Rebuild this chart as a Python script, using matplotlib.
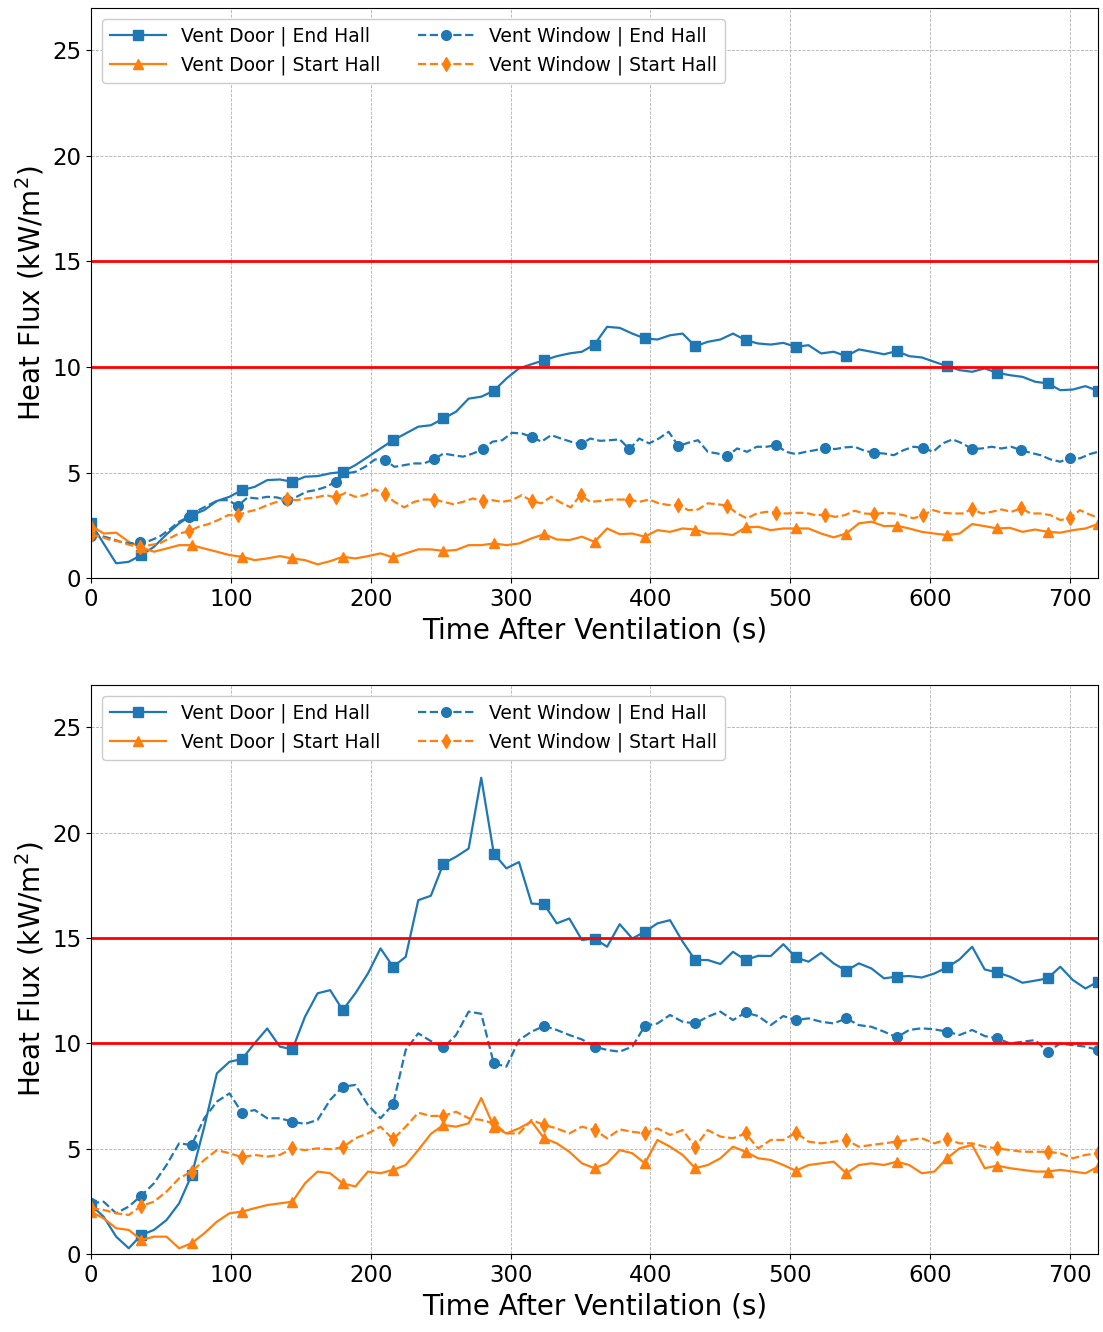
import numpy as np
import matplotlib
matplotlib.use("Agg")
import matplotlib.pyplot as plt

# Time bases (s). Door runs sampled every 9 s, top window runs every 7 s
t_door = np.arange(0, 721, 9)
t_win_top = np.append(np.arange(0, 720, 7), 720)
t_bot = np.arange(0, 721, 9)

# ---- Top panel ----
top_door_end = [
    2.6, 1.64, 0.7, 0.77, 1.09, 1.48, 2.07, 2.59, 2.98, 3.22, 3.65, 3.85, 4.17, 4.32, 4.64, 4.67,
    4.56, 4.8, 4.83, 4.96, 5.03, 5.35, 5.74, 6.14, 6.53, 6.85, 7.17, 7.24, 7.56, 7.88, 8.5, 8.59,
    8.87, 9.45, 9.93, 10.13, 10.32, 10.51, 10.64, 10.72, 11.06, 11.9, 11.85, 11.58, 11.35, 11.3,
    11.5, 11.58, 10.98, 11.19, 11.3, 11.58, 11.27, 11.11, 11.06, 11.14, 10.95, 11.03, 10.64, 10.72,
    10.51, 10.83, 10.72, 10.6, 10.75, 10.51, 10.45, 10.24, 10.04, 9.85, 9.77, 9.93, 9.72, 9.61,
    9.53, 9.3, 9.22, 8.9, 8.93, 9.09, 8.87]
top_door_start = [
    2.5, 2.11, 2.15, 1.72, 1.45, 1.25, 1.4, 1.56, 1.56, 1.4, 1.25, 1.09, 1.01, 0.85, 0.93, 1.04,
    0.93, 0.85, 0.65, 0.8, 1.01, 0.93, 1.04, 1.17, 0.98, 1.17, 1.36, 1.36, 1.29, 1.33, 1.56, 1.56,
    1.64, 1.56, 1.64, 1.88, 2.08, 1.83, 1.8, 1.96, 1.72, 2.35, 2.08, 2.11, 1.96, 2.27, 2.19, 2.35,
    2.3, 2.11, 2.11, 2.04, 2.4, 2.43, 2.27, 2.35, 2.35, 2.35, 2.11, 1.93, 2.11, 2.59, 2.67, 2.46,
    2.48, 2.35, 2.19, 2.11, 2.04, 2.11, 2.56, 2.46, 2.35, 2.38, 2.19, 2.3, 2.19, 2.15, 2.27, 2.35,
    2.56]
top_win_end = [
    2.0, 2.0, 1.88, 1.72, 1.64, 1.69, 1.77, 1.96, 2.3, 2.67, 2.9, 3.22, 3.46, 3.69, 3.69, 3.42,
    3.82, 3.77, 3.85, 3.82, 3.69, 3.85, 4.09, 4.17, 4.32, 4.56, 4.96, 5.03, 5.27, 5.62, 5.59, 5.27,
    5.35, 5.43, 5.43,
    5.62, 5.9, 5.82, 5.75, 5.9, 6.09, 6.46, 6.53, 6.88, 6.85, 6.69, 6.46, 6.77, 6.61, 6.46, 6.33,
    6.61, 6.5, 6.53, 6.57, 6.11, 6.61, 6.38, 6.61, 6.93, 6.25, 6.41, 6.53, 5.98, 5.9, 5.78, 6.14,
    5.98, 6.22,
    6.22, 6.3, 5.98, 5.87, 5.98, 6.06, 6.17, 6.11, 6.19, 6.22, 6.03, 5.93, 5.9, 5.82, 6.06, 6.22,
    6.17, 5.98, 6.38, 6.57, 6.38, 6.11, 6.14, 6.22, 6.14, 6.22, 6.06, 5.93, 5.82, 5.62, 5.51, 5.7,
    5.67, 5.87, 5.98]
top_win_start = [
    2.05, 1.96, 1.8, 1.72, 1.56, 1.48, 1.56, 1.64, 1.88, 2.11, 2.22, 2.43, 2.56, 2.75, 2.98, 2.98,
    3.14, 3.25, 3.46, 3.61, 3.74, 3.69, 3.77, 3.82, 3.93, 3.82, 4.04, 3.85, 3.93, 4.2, 3.98, 3.61,
    3.35, 3.61, 3.72,
    3.72, 3.61, 3.5, 3.61, 3.77, 3.65, 3.69, 3.61, 3.69, 3.93, 3.65, 3.54, 3.85, 3.57, 3.35, 3.93,
    3.61, 3.65, 3.72, 3.72, 3.72, 3.61, 3.72, 3.54, 3.46, 3.46, 3.22, 3.25, 3.54, 3.5, 3.42, 3.06,
    2.83, 3.06,
    3.14, 3.09, 3.06, 3.09, 3.09, 2.98, 3.01, 2.9, 2.98, 3.19, 3.06, 3.03, 3.09, 3.06, 2.98, 2.83,
    2.98, 3.22, 3.09, 3.06, 3.06, 3.27, 3.06, 3.14, 3.25, 3.14, 3.3, 3.06, 3.06, 2.98, 2.75, 2.83,
    3.22, 3.01, 2.86]

# ---- Bottom panel ----
bot_door_end = [
    2.32, 1.77, 0.82, 0.27, 0.9, 1.14, 1.61, 2.4, 3.75, 6.04, 8.57, 9.12, 9.25, 10.0, 10.7, 9.84,
    9.71, 11.26, 12.37, 12.52, 11.57, 12.37, 13.31, 14.5, 13.63, 14.1, 16.79, 17.0, 18.53, 18.85,
    19.24, 22.6, 19.0, 18.3, 18.6, 16.63, 16.59, 15.69, 15.92, 14.9, 14.97, 14.58, 15.65, 14.97,
    15.29, 15.69, 15.84, 14.82, 13.95, 13.95, 13.76, 14.34, 13.95, 14.15, 14.14, 14.7, 14.07,
    13.87, 14.29, 13.79, 13.44, 13.79, 13.55, 13.08, 13.16, 13.19, 13.12, 13.31, 13.6, 13.98,
    14.58, 13.5, 13.36, 13.16, 12.87, 12.97, 13.08, 13.63, 13.0, 12.6, 12.92]
bot_door_start = [
    2.01, 1.69, 1.22, 1.14, 0.66, 0.82, 0.82, 0.27, 0.51, 0.98, 1.53, 1.93, 2.01, 2.17, 2.32, 2.4,
    2.48, 3.35, 3.91, 3.83, 3.35, 3.2, 3.91, 3.83, 3.99, 4.22, 4.93, 5.7, 6.12, 6.04, 6.2, 7.4,
    6.04, 5.72, 5.96, 6.28, 5.49, 5.25, 4.85, 4.3, 4.07, 4.3, 4.93, 4.78, 4.3, 5.41, 5.09, 4.7,
    4.07, 4.22, 4.54, 5.09, 4.85, 4.54, 4.46, 4.22, 3.95, 4.22, 4.3, 4.38, 3.83, 4.22, 4.3, 4.22,
    4.38, 4.22, 3.83, 3.91, 4.54, 5.01, 5.17, 4.07, 4.19, 4.07, 3.99, 3.91, 3.91, 3.99, 3.91, 3.83,
    4.14]
bot_win_end = [
    2.4, 2.48, 1.93, 2.25, 2.77, 3.35, 4.22, 5.25, 5.17, 6.44, 7.23, 7.62, 6.7, 6.83, 6.44, 6.44,
    6.28, 6.17, 6.36, 7.31, 7.94, 8.02, 7.07, 6.44, 7.1, 9.68, 10.47, 10.1, 9.8, 10.39, 11.5, 11.4,
    9.04, 8.89, 10.15, 10.55, 10.82, 10.63, 10.39, 10.18, 9.84, 9.68, 9.6, 9.84, 10.82, 10.94,
    11.34, 11.02, 10.94, 11.26, 11.5, 11.1, 11.46, 11.29, 10.86, 11.29, 11.1, 11.18, 11.02, 10.94,
    11.18, 10.86, 10.78, 10.55, 10.28, 10.63, 10.71, 10.66, 10.55, 10.39, 10.63, 10.34, 10.23,
    9.99, 10.07, 10.15, 9.6, 9.99, 9.91, 9.84, 9.68]
bot_win_start = [
    2.17, 2.09, 1.93, 1.85, 2.28, 2.48, 2.96, 3.59, 3.91, 4.46, 4.93, 4.78, 4.59, 4.7, 4.62, 4.7,
    5.01, 4.93, 5.01, 4.97, 5.06, 5.49, 5.72, 6.04, 5.44, 6.04, 6.7, 6.55, 6.55, 6.75, 6.44, 6.36,
    6.2, 5.72, 5.72, 6.36, 6.12, 5.96, 5.72, 6.04, 5.88, 5.49, 5.91, 5.8, 5.72, 5.96, 5.65, 5.88,
    5.09, 5.88, 5.57, 5.49, 5.72, 5.01, 5.41, 5.41, 5.76, 5.33, 5.25, 5.33, 5.41, 5.09, 5.17, 5.25,
    5.33, 5.41, 5.49, 5.25, 5.44, 5.25, 5.25, 5.09, 5.01, 4.93, 4.85, 4.85, 4.85, 4.78, 4.54, 4.7,
    4.78]

blue = "#1f77b4"
orange = "#ff7f0e"


def draw_panel(ax, t_d, d_end, d_start, t_w, w_end, w_start, mk_d, mk_w):
    ax.plot(t_d, d_end, color=blue, ls="-", lw=1.6, marker="s", ms=7,
            markevery=mk_d, label="Vent Door | End Hall")
    ax.plot(t_d, d_start, color=orange, ls="-", lw=1.6, marker="^", ms=7,
            markevery=mk_d, label="Vent Door | Start Hall")
    ax.plot(t_w, w_end, color=blue, ls="--", lw=1.6, marker="o", ms=7,
            markevery=mk_w, label="Vent Window | End Hall")
    ax.plot(t_w, w_start, color=orange, ls="--", lw=1.6, marker="d", ms=7,
            markevery=mk_w, label="Vent Window | Start Hall")
    ax.axhline(10, color="red", lw=2)
    ax.axhline(15, color="red", lw=2)
    ax.set_xlim(0, 720)
    ax.set_ylim(0, 27)
    ax.set_xticks([0, 100, 200, 300, 400, 500, 600, 700])
    ax.set_yticks([0, 5, 10, 15, 20, 25])
    ax.tick_params(labelsize=16.5)
    ax.grid(True, ls="--", lw=0.6, color="#b0b0b0")
    ax.set_xlabel("Time After Ventilation (s)", fontsize=20, labelpad=4)
    ax.set_ylabel("Heat Flux (kW/m$^2$)", fontsize=20)
    ax.legend(loc="upper left", ncol=2, fontsize=13.5, framealpha=1,
              handlelength=3.0, columnspacing=2.0, borderaxespad=0.6)


fig = plt.figure(figsize=(11.03, 13.32), dpi=100)
ax1 = fig.add_axes([0.0825, 0.566, 0.913, 0.428])
ax2 = fig.add_axes([0.0825, 0.0586, 0.913, 0.4271])

draw_panel(ax1, t_door, top_door_end, top_door_start,
           t_win_top, top_win_end, top_win_start, 4, 5)
draw_panel(ax2, t_bot, bot_door_end, bot_door_start,
           t_bot, bot_win_end, bot_win_start, 4, 4)

fig.savefig("out.png", dpi=100)
